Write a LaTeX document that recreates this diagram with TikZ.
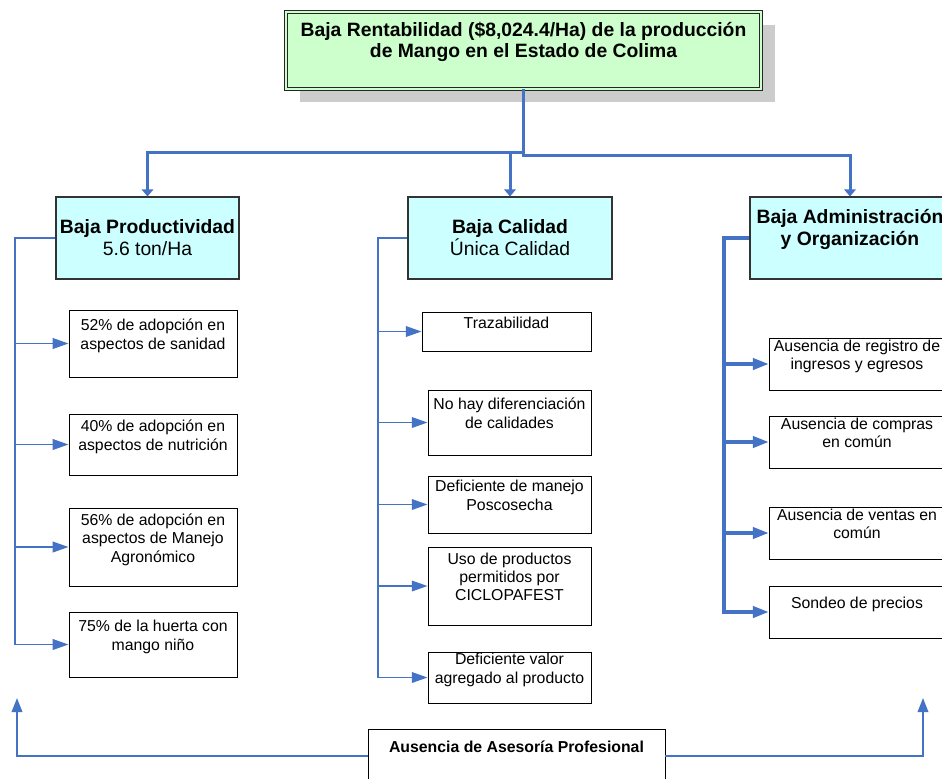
\documentclass[tikz,border=0pt]{standalone}
\usepackage{fontspec}
\setmainfont{Liberation Sans}
\usetikzlibrary{arrows.meta, shadows}
\definecolor{linkblue}{RGB}{68,114,196}
\definecolor{topgreen}{RGB}{204,255,204}
\definecolor{midcyan}{RGB}{204,255,255}

\begin{document}
\begin{tikzpicture}[x=0.02cm, y=-0.02cm,
    every node/.style={font=\fontsize{9}{10.5}\selectfont, align=center, inner sep=0pt},
    sz/.style 2 args={minimum width=#1*0.02cm, minimum height=#2*0.02cm},
    topbox/.style={draw=black!85, line width=.5pt, double=topgreen, double distance=1.3pt, fill=topgreen,
        drop shadow={shadow xshift=0.28cm, shadow yshift=-0.26cm, fill=black!20, opacity=1},
        font=\fontsize{11}{12}\selectfont\bfseries},
    midbox/.style={draw=black!80, line width=.6pt, fill=midcyan, font=\fontsize{11}{12.5}\selectfont},
    leafbox/.style={draw=black, line width=.5pt, fill=white},
    topline/.style={draw=linkblue, line width=1.7pt, -{Triangle[length=4pt,width=6.5pt]}},
    leafline/.style={draw=linkblue, line width=1.1pt, -{Triangle[length=9pt,width=6pt]}},
    admline/.style={draw=linkblue, line width=1.8pt, -{Triangle[length=9pt,width=6.5pt]}},
    supportline/.style={draw=linkblue, line width=1.1pt, -{Triangle[length=8pt,width=6pt]}}]
    \useasboundingbox (0,0) rectangle (942,778);
    \clip (0,0) rectangle (942,778);
    \fill[white] (0,0) rectangle (942,778);
    \node[topbox, sz={475}{77}] (top) at (523.5,50.5) {Baja Rentabilidad (\$8,024.4/Ha) de la producción\\de Mango en el Estado de Colima\\~};
    \node[midbox, sz={183}{82}] (prod) at (147.5,238) {\textbf{Baja Productividad}\\5.6 ton/Ha};
    \node[midbox, sz={204}{82}] (cal) at (510,238) {\textbf{Baja Calidad}\\Única Calidad};
    \node[midbox, sz={200}{82}] (adm) at (850,238) {\textbf{Baja Administración}\\\textbf{y Organización}\\~};
    \draw[topline] (top.south) -- ++(0,63) -| (prod.north);
    \draw[topline] (top.south) -- ++(0,63) -| (cal.north);
    \draw[topline] (top.south) -- ++(0,66) -| (adm.north);
    \node[leafbox, sz={168}{67}] (c1) at (153,343.5) {52\% de adopción en\\aspectos de sanidad\\~};
    \node[leafbox, sz={168}{61}] (c2) at (153,444.5) {40\% de adopción en\\aspectos de nutrición\\~};
    \node[leafbox, sz={168}{78}] (c3) at (153,547) {56\% de adopción en\\aspectos de Manejo\\Agronómico\\~};
    \node[leafbox, sz={168}{65}] (c4) at (153,644.5) {75\% de la huerta con\\mango niño\\~};
    \coordinate (lspine) at (15,238);
    \draw[leafline] (prod.west) -- (lspine) |- (c4.west);
    \foreach \leaf in {c1,c2,c3}
        \draw[leafline] (lspine |- \leaf.west) -- (\leaf.west);
    \node[leafbox, sz={169}{39}] (m1) at (506.5,331.5) {Trazabilidad\\~};
    \node[leafbox, sz={163}{65}] (m2) at (509.5,422.5) {No hay diferenciación\\de calidades\\~};
    \node[leafbox, sz={163}{57}] (m3) at (509.5,504.5) {Deficiente de manejo\\Poscosecha\\~};
    \node[leafbox, sz={163}{78}] (m4) at (509.5,586) {Uso de productos\\permitidos por\\CICLOPAFEST\\~};
    \node[leafbox, sz={163}{51}] (m5) at (509.5,677.5) {Deficiente valor\\agregado al producto\\~};
    \coordinate (mspine) at (378,238);
    \draw[leafline] (cal.west) -- (mspine) |- (m5.west);
    \foreach \leaf in {m1,m2,m3,m4}
        \draw[leafline] (mspine |- \leaf.west) -- (\leaf.west);
    \node[leafbox, sz={176}{52}] (r1) at (857,364) {Ausencia de registro de\\ingresos y egresos\\~};
    \node[leafbox, sz={176}{52}] (r2) at (857,442) {Ausencia de compras\\en común\\~};
    \node[leafbox, sz={176}{52}] (r3) at (857,533) {Ausencia de ventas en\\común\\~};
    \node[leafbox, sz={176}{52}] (r4) at (857,612) {Sondeo de precios\\~};
    \coordinate (rspine) at (724,238);
    \draw[admline] (adm.west) -- (rspine) |- (r4.west);
    \foreach \leaf in {r1,r2,r3}
        \draw[admline] (rspine |- \leaf.west) -- (\leaf.west);
    \node[leafbox, sz={297}{54}, font=\fontsize{9}{10.5}\selectfont\bfseries] (asesoria) at (516.5,756) {Ausencia de Asesoría Profesional\\~};
    \coordinate (lup) at (17,698);
    \coordinate (rup) at (923,698);
    \draw[supportline] (asesoria.west) -| (lup);
    \draw[supportline] (asesoria.east) -| (rup);
\end{tikzpicture}
\end{document}
